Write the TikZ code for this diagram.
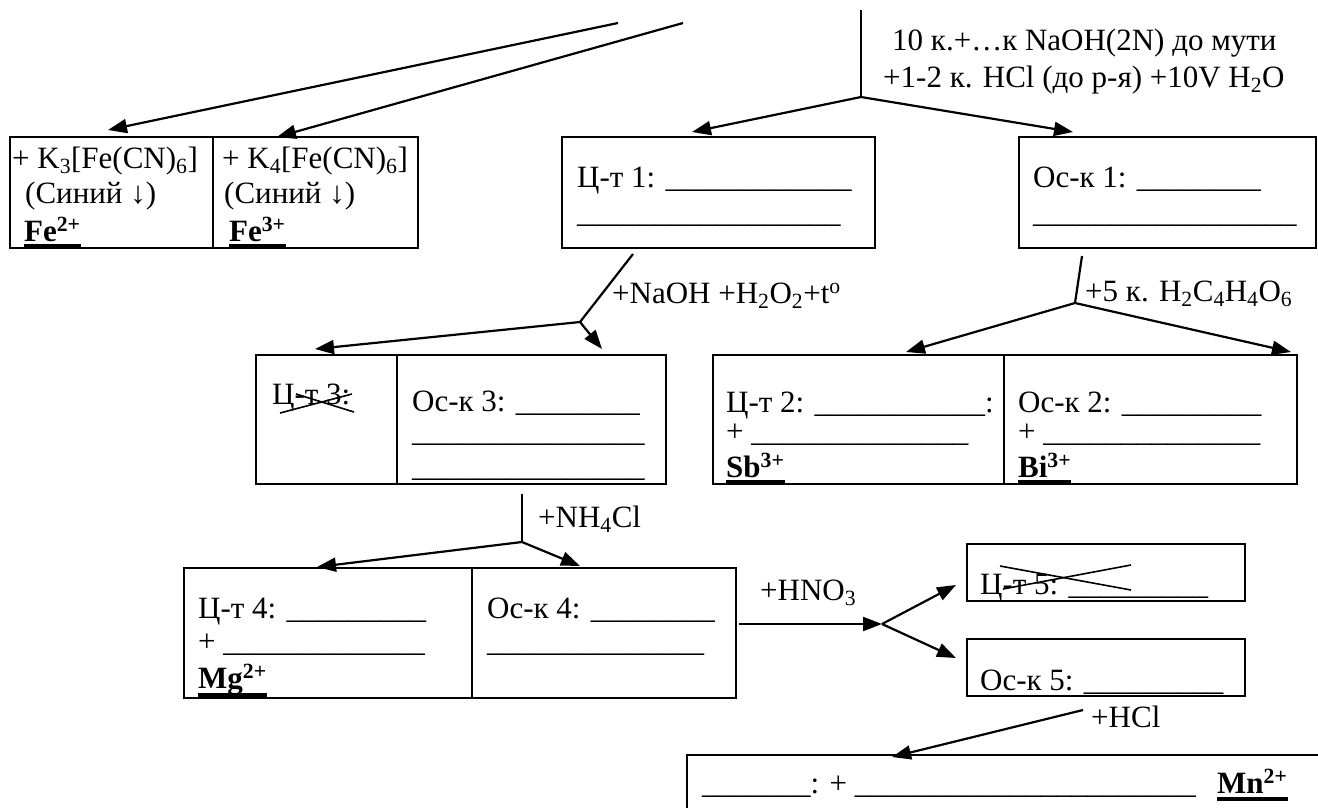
\documentclass[tikz,border=0pt]{standalone}
\usepackage{fontspec}
\setmainfont{Liberation Serif}
\usetikzlibrary{arrows.meta}
\ExplSyntaxOn
\NewDocumentCommand\blanks{m}{\prg_replicate:nn{#1}{\textunderscore}}
\ExplSyntaxOff
\newcommand\tf{\fontsize{31}{35}\selectfont}
\tikzset{
  cell/.style={draw, line width=2pt, anchor=north west, inner sep=0pt, outer sep=0pt},
  txt/.style={anchor=base west, inner sep=0pt, font=\tf},
  ion/.style={anchor=base west, inner sep=0pt, font=\tf\bfseries},
  arr/.style={line width=2.2pt, -{Triangle[length=19pt,width=14pt]}},
  ln/.style={line width=2.2pt},
  bar/.style={line width=4pt},
  xline/.style={line width=1.6pt}
}
\begin{document}
\begin{tikzpicture}[x=1pt,y=-1pt]
\useasboundingbox (0,0) rectangle (1318,807);

% ---------- top text ----------
\node[txt] (top1) at (892,50) {10 к.+…к NaOH(2N) до мути};
\node[txt] (top2) at (883,87) {+1-2 к. HCl (до р-я) +10V H\textsubscript{2}O};

% ---------- box A ----------
\node[cell, minimum width=203, minimum height=111] (fe2box) at (10,137) {};
\node[cell, minimum width=205, minimum height=111] (fe3box) at (213,137) {};
\node[txt] (a1) at (12,168) {+ K\textsubscript{3}[Fe(CN)\textsubscript{6}]};
\node[txt] (a2) at (25,203) {(Синий ↓)};
\node[ion] (fe2) at (24,241) {Fe\textsuperscript{2+}};
\node[txt] (a3) at (222,168) {+ K\textsubscript{4}[Fe(CN)\textsubscript{6}]};
\node[txt] (a4) at (224,203) {(Синий ↓)};
\node[ion] (fe3) at (229,241) {Fe\textsuperscript{3+}};
\draw[bar] ([yshift=-5pt]fe2.base west) -- ([yshift=-5pt]fe2.base east);
\draw[bar] ([yshift=-5pt]fe3.base west) -- ([yshift=-5pt]fe3.base east);

% ---------- box 1 ----------
\node[cell, minimum width=313, minimum height=111] (ct1) at (562,137) {};
\node[txt] (ct1a) at (577,187) {Ц-т 1: \blanks{12}};
\node[txt] (ct1b) at (577,222) {\blanks{17}};
\node[cell, minimum width=297, minimum height=111] (os1) at (1019,137) {};
\node[txt] (os1a) at (1033,187) {Ос-к 1: \blanks{8}};
\node[txt] (os1b) at (1033,222) {\blanks{17}};

% ---------- top connectors ----------
\coordinate (s1) at (618,23);
\coordinate (s2) at (683,23);
\coordinate (t1) at (108,130);
\coordinate (t2) at (277,137);
\draw[arr] (s1) -- (t1);
\draw[arr] (s2) -- (t2);
\coordinate (v0) at (861,10);
\coordinate (b1) at (861,97);
\coordinate (t3) at (692,132);
\coordinate (t4) at (1073,132);
\draw[ln] (v0) -- (b1);
\draw[arr] (b1) -- (t3);
\draw[arr] (b1) -- (t4);

% ---------- left branch (box 3) ----------
\coordinate (c1) at (633,254);
\coordinate (b2) at (580,322);
\coordinate (t5) at (315,349);
\coordinate (t6) at (602,349);
\draw[ln] (c1) -- (b2);
\draw[arr] (b2) -- (t5);
\draw[arr] (b2) -- (t6);
\node[txt] (lab1) at (612,303) {+NaOH +H\textsubscript{2}O\textsubscript{2}+t\textsuperscript{o}};

\node[cell, minimum width=141, minimum height=129] (ct3) at (256,355) {};
\node[cell, minimum width=269, minimum height=129] (os3) at (397,355) {};
\node[txt] (ct3a) at (272,404) {Ц-т 3:};
\draw[xline] (280,413) -- (352,394);
\draw[xline] (296,394) -- (354,412);
\node[txt] (os3a) at (412,411) {Ос-к 3: \blanks{8}};
\node[txt] (os3b) at (412,441) {\blanks{15}};
\node[txt] (os3c) at (412,476) {\blanks{15}};

% ---------- right branch (box 2) ----------
\coordinate (c2) at (1082,256);
\coordinate (b3) at (1075,303);
\coordinate (t7) at (906,352);
\coordinate (t8) at (1291,352);
\draw[ln] (c2) -- (b3);
\draw[arr] (b3) -- (t7);
\draw[arr] (b3) -- (t8);
\node[txt] (lab2) at (1085,301) {+5 к. H\textsubscript{2}C\textsubscript{4}H\textsubscript{4}O\textsubscript{6}};

\node[cell, minimum width=291, minimum height=129] (ct2) at (713,355) {};
\node[cell, minimum width=293, minimum height=129] (os2) at (1004,355) {};
\node[txt] (ct2a) at (726,412) {Ц-т 2: \blanks{11}:};
\node[txt] (ct2b) at (726,441) {+ \blanks{14}};
\node[ion] (sb) at (726,477) {Sb\textsuperscript{3+}};
\node[txt] (os2a) at (1018,412) {Ос-к 2: \blanks{9}};
\node[txt] (os2b) at (1018,441) {+ \blanks{14}};
\node[ion] (bi) at (1018,477) {Bi\textsuperscript{3+}};
\draw[bar] ([yshift=-5pt]sb.base west) -- ([yshift=-5pt]sb.base east);
\draw[bar] ([yshift=-5pt]bi.base west) -- ([yshift=-5pt]bi.base east);

% ---------- NH4Cl branch (box 4) ----------
\coordinate (c3) at (522,494);
\coordinate (b4) at (522,542);
\coordinate (t9) at (317,567);
\coordinate (t10) at (580,566);
\draw[ln] (c3) -- (b4);
\draw[arr] (b4) -- (t9);
\draw[arr] (b4) -- (t10);
\node[txt] (lab3) at (538,527) {+NH\textsubscript{4}Cl};

\node[cell, minimum width=288, minimum height=130] (ct4) at (184,568) {};
\node[cell, minimum width=264, minimum height=130] (os4) at (472,568) {};
\node[txt] (ct4a) at (198,618) {Ц-т 4: \blanks{9}};
\node[txt] (ct4b) at (198,651) {+ \blanks{13}};
\node[ion] (mg) at (198,688) {Mg\textsuperscript{2+}};
\draw[bar] ([yshift=-7pt]mg.base west) -- ([yshift=-7pt]mg.base east);
\node[txt] (os4a) at (487,618) {Ос-к 4: \blanks{8}};
\node[txt] (os4b) at (487,651) {\blanks{14}};

% ---------- HNO3 branch (boxes 5) ----------
\node[txt] (lab4) at (760,600) {+HNO\textsubscript{3}};
\coordinate (h0) at (739,624);
\coordinate (b5) at (882,624);
\coordinate (t11) at (956,585);
\coordinate (t12) at (956,658);
\draw[arr] (h0) -- (b5);
\draw[arr] (b5) -- (t11);
\draw[arr] (b5) -- (t12);

\node[cell, minimum width=278, minimum height=57] (ct5) at (967,544) {};
\node[txt] (ct5a) at (980,594) {Ц-т 5: \blanks{9}};
\draw[xline] (1000,566) -- (1131,590);
\draw[xline] (1003,589) -- (1131,565);
\node[cell, minimum width=278, minimum height=57] (os5) at (967,639) {};
\node[txt] (os5a) at (980,690) {Ос-к 5: \blanks{9}};

% ---------- HCl branch (bottom box) ----------
\coordinate (c6) at (1083,710);
\coordinate (t13) at (892,757);
\draw[arr] (c6) -- (t13);
\node[txt] (lab5) at (1091,727) {+HCl};
\node[cell, minimum width=700, minimum height=100] (mnbox) at (687,755) {};
\node[txt] (mna) at (702,793) {\blanks{7}: + \blanks{22}};
\node[ion] (mn) at (1217,793) {Mn\textsuperscript{2+}};
\draw[bar] ([yshift=-6pt]mn.base west) -- ([yshift=-6pt]mn.base east);
\end{tikzpicture}
\end{document}
